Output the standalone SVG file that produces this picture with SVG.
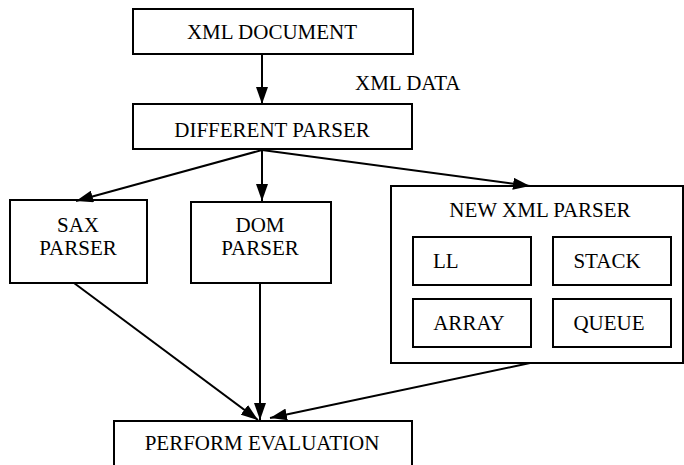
<svg xmlns="http://www.w3.org/2000/svg" width="684" height="465" viewBox="0 0 684 465">
<style>
.box{fill:#fff;stroke:#000;stroke-width:2}
text{font-family:'Liberation Serif',Tinos,'Times New Roman',Times,'Nimbus Roman','DejaVu Serif',serif;font-size:21px;fill:#000}
.c{text-anchor:middle}
.ln{stroke:#000;stroke-width:2;fill:none;marker-end:url(#ah)}
</style>
<defs>
<marker id="ah" markerUnits="userSpaceOnUse" markerWidth="17" markerHeight="12" refX="17" refY="6" orient="auto" viewBox="0 0 17 12">
<path d="M0,0 L17,6 L0,12 z" fill="#000"/>
</marker>
</defs>
<rect width="684" height="465" fill="#fff"/>
<g id="xmldoc"><rect class="box" x="133" y="9" width="280" height="45"/><text class="c" x="272" y="39">XML DOCUMENT</text></g>
<g id="xmldata"><text x="355" y="90">XML DATA</text></g>
<g id="diffparser"><rect class="box" x="133" y="104" width="279" height="45"/><text class="c" x="272" y="137">DIFFERENT PARSER</text></g>
<g id="sax"><rect class="box" x="10" y="200" width="137" height="83"/><text class="c" x="78" y="232">SAX</text><text class="c" x="78" y="255">PARSER</text></g>
<g id="dom"><rect class="box" x="191" y="202" width="140" height="81"/><text class="c" x="260" y="232">DOM</text><text class="c" x="260" y="255">PARSER</text></g>
<g id="newxml"><rect class="box" x="391" y="186" width="292" height="177"/><text class="c" x="540" y="217">NEW XML PARSER</text></g>
<g id="ll"><rect class="box" x="413" y="237" width="118" height="48"/><text x="433" y="268">LL</text></g>
<g id="stack"><rect class="box" x="553" y="237" width="118" height="48"/><text class="c" x="607" y="268">STACK</text></g>
<g id="array"><rect class="box" x="413" y="299" width="118" height="48"/><text class="c" x="469" y="330">ARRAY</text></g>
<g id="queue"><rect class="box" x="553" y="299" width="118" height="48"/><text class="c" x="609" y="330">QUEUE</text></g>
<g id="perform"><rect class="box" x="114" y="421" width="298" height="60"/><text class="c" x="262" y="450">PERFORM EVALUATION</text></g>
<g id="connectors">
<line class="ln" x1="262" y1="54" x2="262" y2="104"/>
<line class="ln" x1="262" y1="150" x2="76" y2="201"/>
<line class="ln" x1="262" y1="150" x2="262" y2="201"/>
<line class="ln" x1="262" y1="150" x2="530" y2="186"/>
<line class="ln" x1="74" y1="283" x2="258" y2="420"/>
<line class="ln" x1="260" y1="283" x2="260" y2="420"/>
<line class="ln" x1="530" y1="363" x2="270" y2="418"/>
</g>
</svg>
